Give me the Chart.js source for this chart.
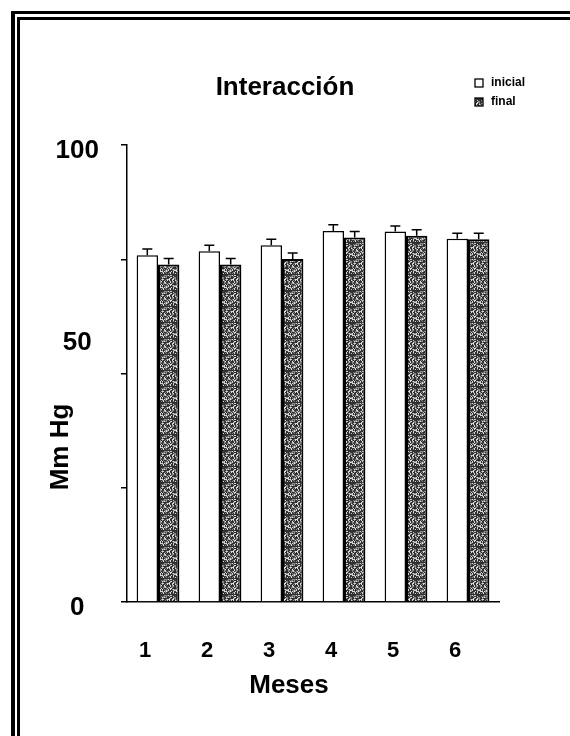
<!DOCTYPE html>
<html>
<head>
<meta charset="utf-8">
<script src="https://cdn.jsdelivr.net/npm/chart.js@4/dist/chart.umd.min.js"></script>
<style>
  html, body { margin: 0; padding: 0; background: #fff; }
  canvas { display: block; }
</style>
</head>
<body>
<canvas id="chart" width="570" height="736"></canvas>
<script>
// Monthly blood-pressure readings (mm Hg), initial vs final, with SE bars
const months = ['1', '2', '3', '4', '5', '6'];
const seriesNames = ['inicial', 'final'];
const inicial = [75.9, 76.8, 78.1, 81.2, 81.1, 79.5];
const inicialErr = [1.4, 1.3, 1.3, 1.4, 1.2, 1.2];
const final = [73.9, 73.9, 75.1, 79.8, 80.2, 79.4];
const finalErr = [1.3, 1.3, 1.3, 1.3, 1.3, 1.3];
const yLabelled = [0, 50, 100];
const chartTitle = 'Interacción';
const xTitle = 'Meses';
const yTitle = 'Mm Hg';

const FONT = '"Liberation Sans", Arial, Helvetica, sans-serif';

// grainy dark-grey fill for the "final" bars
function grainFill() {
  const size = 16;
  const c = document.createElement('canvas');
  c.width = size; c.height = size;
  const g = c.getContext('2d');
  const img = g.createImageData(size, size);
  for (let y = 0; y < size; y++) {
    for (let x = 0; x < size; x++) {
      const h = (((x * 73) ^ (y * 151)) + x * y * 7 + y * 3) % 17;
      let v = h < 8 ? 45 : (h < 13 ? 135 : 215);
      if ((x + y) % 6 === 0) v = 60;
      const i = (y * size + x) * 4;
      img.data[i] = img.data[i + 1] = img.data[i + 2] = v;
      img.data[i + 3] = 255;
    }
  }
  g.putImageData(img, 0, 0);
  return g.createPattern(c, 'repeat');
}

const errors = [inicialErr, finalErr];

// double frame along the left and top edges
const framePlugin = {
  id: 'frame',
  beforeDraw(chart) {
    const ctx = chart.ctx;
    ctx.save();
    ctx.fillStyle = '#fff';
    ctx.fillRect(0, 0, chart.width, chart.height);
    ctx.fillStyle = '#000';
    ctx.fillRect(11, 11, 4, chart.height - 11);
    ctx.fillRect(11, 11, chart.width - 11, 3);
    ctx.fillRect(17, 17, 3, chart.height - 17);
    ctx.fillRect(17, 17, chart.width - 17, 3);
    ctx.restore();
  }
};

// upward error bars with caps
const errorBarPlugin = {
  id: 'errorBars',
  afterDatasetsDraw(chart) {
    const ctx = chart.ctx;
    const yScale = chart.scales.y;
    ctx.save();
    ctx.strokeStyle = '#000';
    ctx.lineWidth = 1.5;
    chart.data.datasets.forEach((ds, di) => {
      const meta = chart.getDatasetMeta(di);
      meta.data.forEach((bar, i) => {
        const v = ds.data[i];
        const top = yScale.getPixelForValue(v);
        const tip = yScale.getPixelForValue(v + errors[di][i]);
        ctx.beginPath();
        ctx.moveTo(bar.x, top);
        ctx.lineTo(bar.x, tip);
        ctx.moveTo(bar.x - 5, tip);
        ctx.lineTo(bar.x + 5, tip);
        ctx.stroke();
      });
    });
    ctx.restore();
  }
};

// small stacked legend in the top-right corner
const legendPlugin = {
  id: 'cornerLegend',
  afterDraw(chart) {
    const ctx = chart.ctx;
    ctx.save();
    ctx.font = 'bold 12px ' + FONT;
    ctx.textBaseline = 'middle';
    chart.data.datasets.forEach((ds, i) => {
      const y = 83 + i * 19;
      ctx.fillStyle = ds.backgroundColor;
      ctx.fillRect(475, y - 4, 8, 8);
      ctx.strokeStyle = '#000';
      ctx.lineWidth = 1.3;
      ctx.strokeRect(475, y - 4, 8, 8);
      ctx.fillStyle = '#000';
      ctx.fillText(ds.label, 491, y);
    });
    ctx.restore();
  }
};

// axis captions
const captionPlugin = {
  id: 'captions',
  afterDraw(chart) {
    const ctx = chart.ctx;
    ctx.save();
    ctx.fillStyle = '#000';
    ctx.font = 'bold 26px ' + FONT;
    ctx.textAlign = 'center';
    ctx.textBaseline = 'middle';
    ctx.fillText(xTitle, 289, 686);
    ctx.translate(61, 447);
    ctx.rotate(-Math.PI / 2);
    ctx.fillText(yTitle, 0, 0);
    ctx.restore();
  }
};

Chart.defaults.font.family = FONT;
Chart.defaults.color = '#000';

new Chart(document.getElementById('chart'), {
  type: 'bar',
  data: {
    labels: months,
    datasets: [
      {
        label: seriesNames[0],
        data: inicial,
        backgroundColor: '#ffffff',
        borderColor: '#000',
        borderWidth: 1.5,
        categoryPercentage: 0.69,
        barPercentage: 1.0
      },
      {
        label: seriesNames[1],
        data: final,
        backgroundColor: grainFill(),
        borderColor: '#000',
        borderWidth: 2,
        categoryPercentage: 0.69,
        barPercentage: 1.0
      }
    ]
  },
  options: {
    responsive: false,
    animation: false,
    layout: { padding: 0 },
    plugins: {
      legend: { display: false },
      tooltip: { enabled: false },
      title: {
        display: true,
        text: chartTitle,
        color: '#000',
        font: { size: 26, weight: 'bold' },
        padding: { top: 72, bottom: 42 }
      }
    },
    scales: {
      x: {
        grid: { display: false, drawTicks: false },
        border: { display: true, color: '#000', width: 1.5 },
        ticks: {
          font: { size: 22, weight: 'bold' },
          color: '#000',
          padding: 36,
          labelOffset: -13
        },
        afterFit(scale) { scale.height = 134; }
      },
      y: {
        min: 0,
        max: 100,
        grid: {
          display: true,
          drawOnChartArea: false,
          drawTicks: true,
          tickLength: 6,
          color: '#000',
          lineWidth: 1.5
        },
        border: { display: true, color: '#000', width: 1.5 },
        ticks: {
          stepSize: 25,
          crossAlign: 'center',
          padding: 22,
          labelOffset: 6,
          color: '#000',
          font: { size: 26, weight: 'bold', lineHeight: 1.4 },
          // the middle label sits raised above its tick mark
          callback(value) {
            if (!yLabelled.includes(value)) return '';
            return value === 50 ? [String(value), '', ''] : String(value);
          }
        },
        afterFit(scale) { scale.width = 127; }
      },
      // blank margin axis on the right, keeps the plot clear of the legend column
      margin: {
        type: 'linear',
        position: 'right',
        display: true,
        grid: { display: false, drawTicks: false },
        border: { display: false },
        ticks: { display: false },
        afterFit(scale) { scale.width = 71; }
      }
    }
  },
  plugins: [framePlugin, errorBarPlugin, legendPlugin, captionPlugin]
});
</script>
</body>
</html>
